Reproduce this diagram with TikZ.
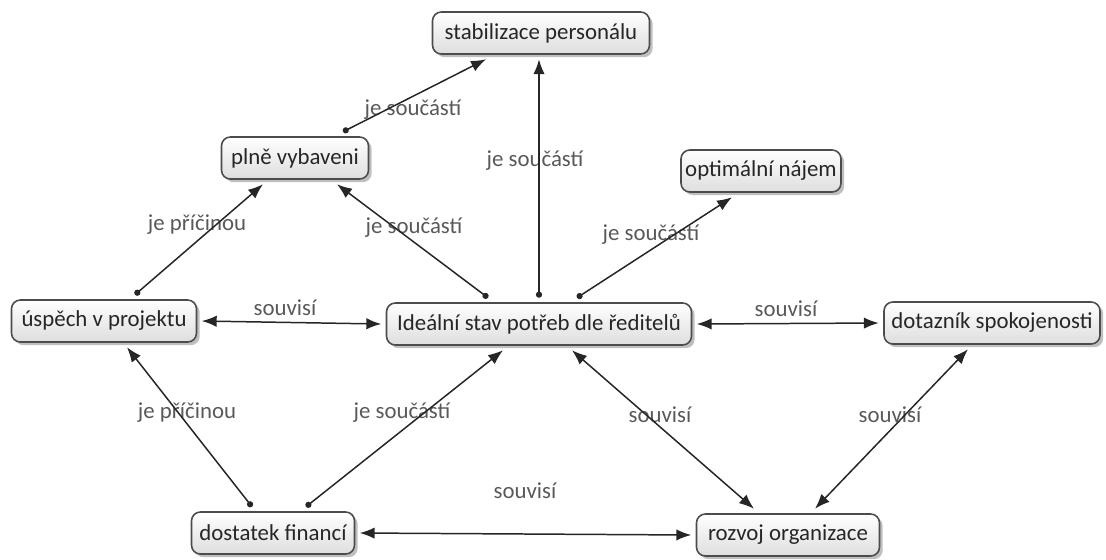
\documentclass[tikz,border=0pt]{standalone}
\usepackage{fontspec}
\setmainfont{Carlito}
\usetikzlibrary{arrows.meta,shadows,calc}

\tikzset{
  concept/.style={draw=black!70, line width=0.9pt, rounded corners=5pt,
    top color=white, bottom color=black!13,
    drop shadow={shadow xshift=1.8pt, shadow yshift=-1.8pt, opacity=0.5},
    minimum height=0.84cm, inner sep=0pt, outer sep=3pt,
    font=\fontsize{13}{15}\selectfont, text=black!85},
  phrase/.style={font=\fontsize{13}{15}\selectfont, text=black!65, inner sep=1pt},
  link/.style={draw=black!85, line width=0.85pt,
    {Circle[length=3.5pt]}-{Latex[length=8.5pt,width=6.5pt]}},
  both/.style={draw=black!85, line width=0.85pt,
    {Latex[length=8.5pt,width=6.5pt]}-{Latex[length=8.5pt,width=6.5pt]}}
}

\begin{document}
\begin{tikzpicture}[x=0.02cm, y=-0.02cm]
  \useasboundingbox (0,0) rectangle (1106,559);

  % concepts
  \node[concept, minimum width=4.34cm] (stab) at (541,33) {stabilizace personálu};
  \node[concept, minimum width=2.94cm] (plne) at (295,158) {plně vybaveni};
  \node[concept, minimum width=3.2cm] (opt) at (761,171) {optimální nájem};
  \node[concept, minimum width=3.7cm] (uspech) at (104,321) {úspěch v projektu};
  \node[concept, minimum width=6.1cm] (ideal) at (539,324) {Ideální stav potřeb dle ředitelů};
  \node[concept, minimum width=4.32cm] (dotaznik) at (992,323) {dotazník spokojenosti};
  \node[concept, minimum width=3.26cm] (finance) at (273,533) {dostatek financí};
  \node[concept, minimum width=3.66cm] (rozvoj) at (788,535) {rozvoj organizace};

  % linking phrases
  \node[phrase] (p1) at (413,110) {je součástí};
  \node[phrase] (p2) at (535,161) {je součástí};
  \node[phrase] (p3) at (414,228) {je součástí};
  \node[phrase] (p4) at (651,235) {je součástí};
  \node[phrase] (p5) at (197,225) {je příčinou};
  \node[phrase] (p6) at (285,308) {souvisí};
  \node[phrase] (p7) at (786,309) {souvisí};
  \node[phrase] (p8) at (187,413) {je příčinou};
  \node[phrase] (p9) at (402,413) {je součástí};
  \node[phrase] (p10) at (660,415) {souvisí};
  \node[phrase] (p11) at (890,415) {souvisí};
  \node[phrase] (p12) at (525,491) {souvisí};

  % connections
  \draw[link] ($(plne.north)+(48,0)$) -- ($(stab.south)+(-55,0)$);
  \draw[link] (ideal.north) -- (ideal.north |- stab.south);
  \draw[link] ($(ideal.north)+(-51,0)$) -- ($(plne.south)+(42,0)$);
  \draw[link] ($(ideal.north)+(38,0)$) -- ($(opt.south)+(-29,0)$);
  \draw[link] ($(uspech.north)+(31,0)$) -- ($(plne.south)+(-32,0)$);
  \draw[link] ($(finance.north)+(-21,0)$) -- ($(uspech.south)+(23,0)$);
  \draw[link] ($(finance.north)+(33,0)$) -- ($(ideal.south)+(-36,0)$);
  \draw[both] (uspech.east) -- (ideal.west);
  \draw[both] (ideal.east) -- (dotaznik.west);
  \draw[both] ($(ideal.south)+(33,0)$) -- ($(rozvoj.north)+(-34,0)$);
  \draw[both] ($(dotaznik.south)+(-24,0)$) -- ($(rozvoj.north)+(27,0)$);
  \draw[both] (finance.east) -- (rozvoj.west);
\end{tikzpicture}
\end{document}
